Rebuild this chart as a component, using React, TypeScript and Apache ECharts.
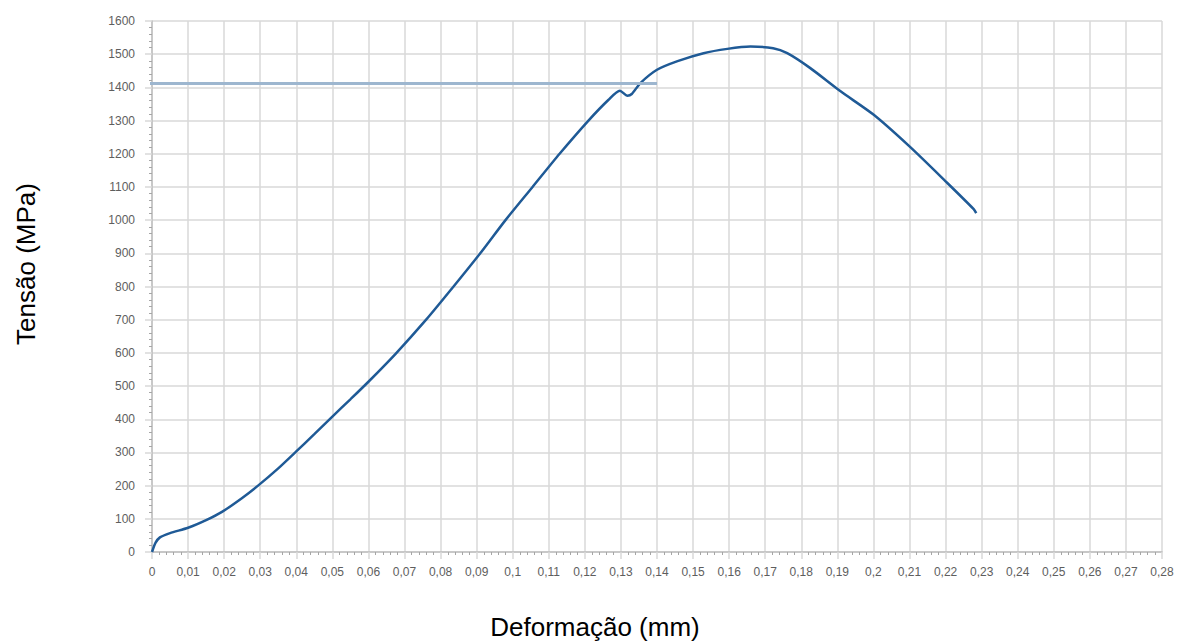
import React, { useEffect, useRef } from "react";
import * as echarts from "echarts";

// Stress–strain trace: deformation (mm) vs stress (MPa)
const deformacao: number[] = [
  0, 0.001, 0.0022, 0.005, 0.01, 0.015, 0.0194, 0.025, 0.0294, 0.035, 0.0397,
  0.045, 0.05, 0.055, 0.06, 0.0676, 0.076, 0.0836, 0.091, 0.098, 0.1055, 0.113,
  0.121, 0.1265, 0.1297, 0.1318, 0.133, 0.1354, 0.14, 0.1457, 0.1529, 0.1595,
  0.1659, 0.1722, 0.1761, 0.1825, 0.1909, 0.2, 0.21, 0.22, 0.2278, 0.2285,
];
const tensao: number[] = [
  0, 28, 44, 57, 73, 96, 121, 163, 200, 252, 300, 355, 408, 460, 513, 598, 700,
  800, 900, 1000, 1100, 1200, 1300, 1362, 1390, 1375, 1380, 1413, 1453, 1479,
  1503, 1516, 1523, 1518, 1503, 1458, 1388, 1318, 1222, 1117, 1033, 1021,
];

// Horizontal reference level
const refX: number[] = [-0.01, 0.14];
const refY: number[] = [1412, 1412];

const X_MIN = 0;
const X_MAX = 0.28;
const X_STEP = 0.01;
const Y_MIN = 0;
const Y_MAX = 1600;
const Y_STEP = 100;

const xTitle = "Deformação (mm)";
const yTitle = "Tensão (MPa)";

const fmtX = (v: number) => {
  const r = Math.round(v * 100) / 100;
  return String(r).replace(".", ",");
};
const fmtY = (v: number) => String(Math.round(v));

export default function App() {
  const ref = useRef<HTMLDivElement>(null);

  useEffect(() => {
    if (!ref.current) return;
    const chart = echarts.init(ref.current, undefined, { renderer: "svg" });
    const gridColor = "#d9d9d9";
    const labelColor = "#5e5e5e";
    const font = "Liberation Sans, Arial, sans-serif";

    chart.setOption({
      animation: false,
      backgroundColor: "#ffffff",
      grid: { left: 152, right: 17, top: 21, bottom: 89 },
      xAxis: {
        type: "value",
        min: X_MIN,
        max: X_MAX,
        interval: X_STEP,
        axisLine: { show: true, lineStyle: { color: "#bfbfbf", width: 1.5 } },
        axisTick: { show: true, length: 7, lineStyle: { color: gridColor, width: 1.5 } },
        minorTick: { show: true, splitNumber: 5, length: 3, lineStyle: { color: "#a6a6a6" } },
        splitLine: { show: true, lineStyle: { color: gridColor, width: 1.5 } },
        axisLabel: {
          color: labelColor,
          fontSize: 12,
          fontFamily: font,
          margin: 14,
          formatter: fmtX,
          hideOverlap: false,
        },
      },
      yAxis: {
        type: "value",
        min: Y_MIN,
        max: Y_MAX,
        interval: Y_STEP,
        axisLine: { show: true, lineStyle: { color: "#bfbfbf", width: 1.5 } },
        axisTick: { show: true, length: 7, lineStyle: { color: gridColor, width: 1.5 } },
        minorTick: { show: true, splitNumber: 5, length: 3, lineStyle: { color: "#a6a6a6" } },
        splitLine: { show: true, lineStyle: { color: gridColor, width: 1.5 } },
        axisLabel: {
          color: labelColor,
          fontSize: 12,
          fontFamily: font,
          margin: 17,
          formatter: fmtY,
        },
      },
      series: [
        {
          type: "line",
          data: deformacao.map((x, i) => [x, tensao[i]]),
          showSymbol: false,
          smooth: 0.25,
          lineStyle: { color: "#1f5a96", width: 2.5 },
          z: 3,
        },
        {
          type: "line",
          data: refX.map((x, i) => [x, refY[i]]),
          showSymbol: false,
          clip: false,
          lineStyle: { color: "#9db6cf", width: 3 },
          z: 4,
        },
      ],
      graphic: [
        {
          type: "text",
          x: 595,
          y: 627,
          style: {
            text: xTitle,
            fontSize: 26,
            fontFamily: font,
            fill: "#000000",
            align: "center",
            verticalAlign: "middle",
          },
        },
        {
          type: "text",
          x: 26,
          y: 264,
          rotation: Math.PI / 2,
          style: {
            text: yTitle,
            fontSize: 26,
            fontFamily: font,
            fill: "#000000",
            align: "center",
            verticalAlign: "middle",
          },
        },
      ],
    });

    return () => chart.dispose();
  }, []);

  return (
    <div
      ref={ref}
      style={{ position: "fixed", left: 0, top: 0, width: 1179, height: 641 }}
    />
  );
}
